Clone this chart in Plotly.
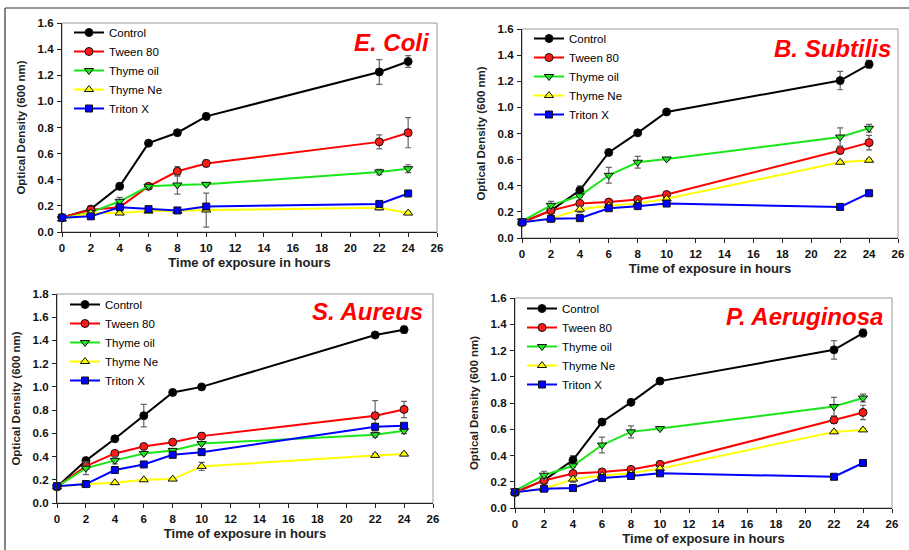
import plotly.graph_objects as go

# ---------------- data ----------------
hours = [0, 2, 4, 6, 8, 10, 22, 24]
x_tick_vals = list(range(0, 27, 2))
series_names = ["Control", "Tween 80", "Thyme oil", "Thyme Ne", "Triton X"]
panel_titles = ["E. Coli", "B. Subtilis", "S. Aureus", "P. Aeruginosa"]

# E. Coli
ecoli_control = [0.11, 0.175, 0.35, 0.68, 0.76, 0.885, 1.225, 1.305]
ecoli_control_err = [0.01, 0.01, 0.025, 0.01, 0.012, 0.025, 0.095, 0.045]
ecoli_tween = [0.11, 0.17, 0.19, 0.35, 0.465, 0.525, 0.69, 0.76]
ecoli_tween_err = [0.01, 0.01, 0.02, 0.01, 0.035, 0.025, 0.053, 0.115]
ecoli_thyme_oil = [0.105, 0.15, 0.235, 0.35, 0.36, 0.365, 0.46, 0.485]
ecoli_thyme_oil_err = [0.01, 0.01, 0.03, 0.01, 0.07, 0.012, 0.02, 0.03]
ecoli_thyme_ne = [0.10, 0.145, 0.145, 0.16, 0.16, 0.168, 0.185, 0.145]
ecoli_thyme_ne_err = [0.01, 0.01, 0.01, 0.01, 0.01, 0.13, 0.015, 0.01]
ecoli_triton = [0.11, 0.12, 0.19, 0.175, 0.165, 0.195, 0.215, 0.295]
ecoli_triton_err = [0.01, 0.01, 0.01, 0.01, 0.01, 0.01, 0.015, 0.01]

# B. Subtilis
bsub_control = [0.12, 0.21, 0.365, 0.655, 0.805, 0.965, 1.205, 1.33]
bsub_control_err = [0.01, 0.01, 0.035, 0.02, 0.01, 0.01, 0.07, 0.03]
bsub_tween = [0.12, 0.21, 0.265, 0.275, 0.295, 0.333, 0.67, 0.73]
bsub_tween_err = [0.01, 0.01, 0.01, 0.01, 0.01, 0.012, 0.025, 0.055]
bsub_thyme_oil = [0.13, 0.25, 0.323, 0.48, 0.58, 0.605, 0.773, 0.84]
bsub_thyme_oil_err = [0.01, 0.03, 0.01, 0.06, 0.045, 0.01, 0.07, 0.03]
bsub_thyme_ne = [0.12, 0.147, 0.22, 0.247, 0.265, 0.30, 0.58, 0.595]
bsub_thyme_ne_err = [0.01, 0.01, 0.025, 0.01, 0.01, 0.01, 0.01, 0.01]
bsub_triton = [0.12, 0.147, 0.152, 0.228, 0.244, 0.264, 0.238, 0.343]
bsub_triton_err = [0.01, 0.01, 0.02, 0.01, 0.01, 0.01, 0.01, 0.01]

# S. Aureus
saur_control = [0.14, 0.365, 0.553, 0.752, 0.952, 1.0, 1.447, 1.493]
saur_control_err = [0.01, 0.02, 0.01, 0.097, 0.01, 0.01, 0.02, 0.03]
saur_tween = [0.14, 0.318, 0.427, 0.487, 0.524, 0.576, 0.752, 0.806]
saur_tween_err = [0.01, 0.01, 0.01, 0.01, 0.015, 0.025, 0.13, 0.07]
saur_thyme_oil = [0.14, 0.30, 0.367, 0.427, 0.453, 0.512, 0.588, 0.622]
saur_thyme_oil_err = [0.01, 0.055, 0.03, 0.01, 0.01, 0.01, 0.02, 0.025]
saur_thyme_ne = [0.14, 0.163, 0.175, 0.20, 0.206, 0.315, 0.41, 0.421]
saur_thyme_ne_err = [0.01, 0.01, 0.01, 0.01, 0.01, 0.035, 0.015, 0.01]
saur_triton = [0.145, 0.163, 0.284, 0.332, 0.415, 0.438, 0.656, 0.665]
saur_triton_err = [0.01, 0.01, 0.01, 0.01, 0.02, 0.01, 0.03, 0.01]

# P. Aeruginosa
paer_control = [0.12, 0.21, 0.365, 0.655, 0.805, 0.967, 1.205, 1.333]
paer_control_err = [0.01, 0.01, 0.035, 0.02, 0.01, 0.01, 0.07, 0.03]
paer_tween = [0.12, 0.21, 0.263, 0.275, 0.294, 0.333, 0.67, 0.728]
paer_tween_err = [0.01, 0.01, 0.01, 0.01, 0.01, 0.012, 0.025, 0.055]
paer_thyme_oil = [0.13, 0.25, 0.322, 0.48, 0.58, 0.605, 0.773, 0.838]
paer_thyme_oil_err = [0.01, 0.03, 0.01, 0.06, 0.045, 0.01, 0.07, 0.03]
paer_thyme_ne = [0.12, 0.147, 0.22, 0.247, 0.265, 0.30, 0.58, 0.595]
paer_thyme_ne_err = [0.01, 0.01, 0.025, 0.01, 0.01, 0.01, 0.01, 0.01]
paer_triton = [0.12, 0.147, 0.152, 0.228, 0.244, 0.264, 0.238, 0.343]
paer_triton_err = [0.01, 0.01, 0.02, 0.01, 0.01, 0.01, 0.01, 0.01]

panels_data = [
    [(ecoli_control, ecoli_control_err), (ecoli_tween, ecoli_tween_err),
     (ecoli_thyme_oil, ecoli_thyme_oil_err), (ecoli_thyme_ne, ecoli_thyme_ne_err),
     (ecoli_triton, ecoli_triton_err)],
    [(bsub_control, bsub_control_err), (bsub_tween, bsub_tween_err),
     (bsub_thyme_oil, bsub_thyme_oil_err), (bsub_thyme_ne, bsub_thyme_ne_err),
     (bsub_triton, bsub_triton_err)],
    [(saur_control, saur_control_err), (saur_tween, saur_tween_err),
     (saur_thyme_oil, saur_thyme_oil_err), (saur_thyme_ne, saur_thyme_ne_err),
     (saur_triton, saur_triton_err)],
    [(paer_control, paer_control_err), (paer_tween, paer_tween_err),
     (paer_thyme_oil, paer_thyme_oil_err), (paer_thyme_ne, paer_thyme_ne_err),
     (paer_triton, paer_triton_err)],
]
y_max = [1.6, 1.6, 1.8, 1.6]

# ---------------- styles ----------------
W, H = 909, 550
line_colors = ["#000000", "#ff0000", "#19e619", "#ffff00", "#0000ff"]
marker_colors = ["#000000", "#ff1a1a", "#1ee61e", "#ffff00", "#0000ff"]
marker_symbols = ["circle", "circle", "triangle-down", "triangle-up", "square"]
marker_sizes = [8, 8, 8, 8, 7]

# plot areas in pixels: (left, right, top, bottom)
boxes = [(62, 437, 23, 232), (522, 898, 29, 238), (57, 433, 294, 503), (515, 892, 298, 508)]
legend_pos = [(69, 18), (529, 24), (65, 290), (522, 294)]
title_off = [(5, 19), (5, 19), (8, 17), (7, 18)]

FONT = "Liberation Sans, Arial, sans-serif"

fig = go.Figure()
layout = dict(
    width=W, height=H, margin=dict(l=0, r=0, t=0, b=0),
    paper_bgcolor="white", plot_bgcolor="white",
    font=dict(family=FONT, color="black"),
    shapes=[], annotations=[],
)

for p in range(4):
    sfx = "" if p == 0 else str(p + 1)
    xa, ya = "x" + sfx, "y" + sfx
    lg = "legend" + sfx
    for s in range(5):
        vals, errs = panels_data[p][s]
        fig.add_trace(go.Scatter(
            x=hours, y=vals, name=series_names[s], mode="lines+markers",
            xaxis=xa, yaxis=ya, legend=lg, cliponaxis=False,
            line=dict(color=line_colors[s], width=2),
            marker=dict(symbol=marker_symbols[s], size=marker_sizes[s],
                        color=marker_colors[s], line=dict(color="#111111", width=1)),
            error_y=dict(type="data", array=errs, visible=True, color="#666666",
                         thickness=1.2, width=3),
        ))
    l, r, t, b = boxes[p]
    axis_common = dict(
        showline=True, linecolor="#222222", linewidth=1.3, mirror=False,
        ticks="outside", ticklen=4, tickcolor="#222222", showgrid=False, zeroline=False,
        tickfont=dict(family=FONT, size=11.5, color="#111111", weight=700),
        automargin=False,
    )
    layout["xaxis" + sfx] = dict(
        axis_common, domain=[l / W, r / W], anchor=ya, range=[0, 26],
        tickvals=x_tick_vals, ticklabelstandoff=1,
        title=dict(text="Time of exposure in hours", standoff=4,
                   font=dict(family=FONT, size=13, weight="bold", color="#222222")),
    )
    layout["yaxis" + sfx] = dict(
        axis_common, domain=[1 - b / H, 1 - t / H], anchor=xa, range=[0, y_max[p]],
        dtick=0.2, tickformat=".1f", ticklabelstandoff=1,
        title=dict(text="Optical Density (600 nm)", standoff=9,
                   font=dict(family=FONT, size=11.5, weight="bold", color="#222222")),
    )
    # grey frame of the plot area
    layout["shapes"].append(dict(
        type="rect", xref=xa + " domain", yref=ya + " domain", x0=0, x1=1, y0=0, y1=1,
        line=dict(color="#999999", width=1), layer="below"))
    lx, ly = legend_pos[p]
    layout[lg] = dict(
        x=lx / W, y=1 - ly / H, xanchor="left", yanchor="top",
        bgcolor="rgba(0,0,0,0)", borderwidth=0,
        font=dict(family=FONT, size=11.5, color="black"), tracegroupgap=0,
    )
    dx, dy = title_off[p]
    layout["annotations"].append(dict(
        text=panel_titles[p], xref=xa + " domain", yref=ya + " domain",
        x=1, y=1, xanchor="right", yanchor="middle", xshift=-dx, yshift=-dy,
        showarrow=False,
        font=dict(family=FONT, size=24, color="#ff0000", weight="bold", style="italic"),
    ))

# outer frame lines (top and left)
layout["shapes"].append(dict(type="line", xref="paper", yref="paper",
                             x0=5 / W, x1=1, y0=1 - 8 / H, y1=1 - 8 / H,
                             line=dict(color="#333333", width=1.2)))
layout["shapes"].append(dict(type="line", xref="paper", yref="paper",
                             x0=5 / W, x1=5 / W, y0=0, y1=1 - 8 / H,
                             line=dict(color="#333333", width=1.2)))

fig.update_layout(**layout)
fig.write_html(
    "out.html",
    config={"displayModeBar": False},
    post_script="document.body.style.margin='0';document.body.style.overflow='hidden';",
)
